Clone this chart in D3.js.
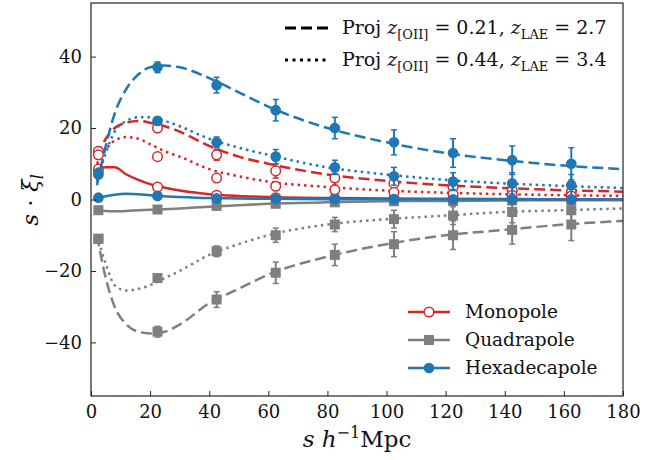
<!DOCTYPE html>
<html><head><meta charset="utf-8">
<script src="https://cdn.jsdelivr.net/npm/d3@7"></script>
<style>body{margin:0;background:#fff}svg{font-family:"DejaVu Serif",serif}</style>
</head><body><svg id="c" width="670" height="460"></svg>
<script>
// data points at bin centres
const sPts = [2.5, 22.5, 42.5, 62.5, 82.5, 102.5, 122.5, 142.5, 162.5];
const monoSolid = [8.5, 3.5, 1.2, 0.5, 0.3, 0.2, 0.15, 0.1, 0.1];
const monoDash = [13.5, 20, 12.5, 8, 6, 4.5, 3.5, 2.5, 2];
const monoDot = [12.5, 12, 6, 3.7, 2.7, 2, 1.5, 1.2, 1];
const quadSolid = [-3, -2.8, -1.8, -1.2, -0.8, -0.5, -0.4, -0.3, -0.2];
const quadDash = [-11, -37, -28, -20.5, -15.5, -12.5, -10, -8.5, -7];
const quadDot = [-11, -22, -14.5, -10, -7, -5.5, -4.5, -3.5, -3];
const hexSolid = [0.5, 1, 0.3, 0.2, 0.1, 0.1, 0.05, 0.05, 0.05];
const hexDash = [7.5, 37, 32, 25, 20, 16, 13, 11, 10];
const hexDot = [7, 22, 16, 12, 9, 6.5, 5, 4.5, 4];
const errDash = [0.8, 1.5, 2.2, 3, 3, 3.5, 4, 4, 4.5];
const errDot = [0.6, 1, 1.5, 2, 2, 2.5, 2.5, 3, 3];

// model curves
const sCurve = [2, 5, 8, 12, 16, 20, 25, 30, 40, 50, 60, 80, 100, 120, 140, 160, 180];
const cMonoDash = [12, 17, 20, 21.5, 22, 21.5, 20.5, 19, 15, 12, 10, 7, 5.2, 4, 3.2, 2.6, 2.2];
const cMonoDot = [10, 14, 16.5, 17.5, 17, 15.5, 13.5, 12, 8.5, 6.5, 5, 3.5, 2.5, 1.9, 1.5, 1.2, 1.0];
const cMonoSolid = [8.5, 9, 9, 7, 5.5, 4.3, 3.3, 2.5, 1.5, 1, 0.7, 0.4, 0.3, 0.2, 0.15, 0.1, 0.1];
const cHexDash = [4, 15, 24, 31, 35, 37, 37.5, 37, 34, 30, 26, 20, 16, 13, 11, 9.5, 8.5];
const cHexDot = [5, 13, 19, 22, 23, 23, 22, 20.5, 17, 14.5, 12.5, 9, 7, 5.5, 4.5, 3.8, 3.2];
const cHexSolid = [0.3, 0.9, 1.3, 1.6, 1.5, 1.2, 0.9, 0.7, 0.4, 0.3, 0.2, 0.1, 0.1, 0.05, 0.05, 0.05, 0.05];
const cQuadDash = [-10, -22, -30, -35, -37, -37.5, -37, -35, -29, -25, -21, -16, -12.5, -10, -8.5, -7, -6];
const cQuadDot = [-10, -18, -24, -25.5, -25, -24, -22, -20, -15.5, -12.5, -10, -7, -5.5, -4.5, -3.5, -3, -2.5];
const cQuadSolid = [-3, -3.2, -3.3, -3.2, -3, -2.9, -2.7, -2.5, -2, -1.6, -1.2, -0.8, -0.5, -0.4, -0.3, -0.2, -0.2];

const xTicks = [0, 20, 40, 60, 80, 100, 120, 140, 160, 180];
const yTicks = [-40, -20, 0, 20, 40];

const red = '#d62728', gray = '#7f7f7f', blue = '#1f77b4';
const L = 91, R = 623, T = 3, B = 396;
const svg = d3.select('#c');
const x = d3.scaleLinear().domain([0, 180]).range([L, R]);
const y = d3.scaleLinear().domain([-55, 55]).range([B, T]);

const dashes = {solid: null, dash: '11,5', dot: '2.5,4'};
const line = d3.line().x(d => x(d[0])).y(d => y(d[1])).curve(d3.curveMonotoneX);
const plot = svg.append('g');

function curve(vals, col, style, w) {
    plot.append('path').datum(sCurve.map((s, i) => [s, vals[i]]))
        .attr('d', line).attr('fill', 'none').attr('stroke', col)
        .attr('stroke-width', w || 2.5).attr('stroke-dasharray', dashes[style]);
}
function points(vals, errs, col, kind) {
    const g = plot.append('g');
    sPts.forEach((s, i) => {
        const cx = x(s), cy = y(vals[i]);
        if (errs) {
            const e = errs[i];
            g.append('line').attr('x1', cx).attr('x2', cx).attr('y1', y(vals[i] - e)).attr('y2', y(vals[i] + e)).attr('stroke', col).attr('stroke-width', 2);
            [vals[i] - e, vals[i] + e].forEach(v => g.append('line').attr('x1', cx - 3).attr('x2', cx + 3).attr('y1', y(v)).attr('y2', y(v)).attr('stroke', col).attr('stroke-width', 1.5));
        }
        marker(g, cx, cy, col, kind);
    });
}
function marker(g, cx, cy, col, kind) {
    if (kind == 'circle') g.append('circle').attr('cx', cx).attr('cy', cy).attr('r', 4.8).attr('fill', '#fff').attr('stroke', col).attr('stroke-width', 1.5);
    else if (kind == 'square') g.append('rect').attr('x', cx - 5).attr('y', cy - 5).attr('width', 10).attr('height', 10).attr('fill', col);
    else g.append('path').attr('d', d3.symbol(d3.symbolCircle, 90)()).attr('transform', `translate(${cx},${cy})`).attr('fill', col);
}

curve(cQuadSolid, gray, 'solid'); curve(cQuadDash, gray, 'dash'); curve(cQuadDot, gray, 'dot');
points(quadSolid, null, gray, 'square'); points(quadDash, errDash, gray, 'square'); points(quadDot, errDot, gray, 'square');
curve(cMonoSolid, red, 'solid'); curve(cMonoDash, red, 'dash'); curve(cMonoDot, red, 'dot');
points(monoSolid, null, red, 'circle'); points(monoDash, errDot, red, 'circle'); points(monoDot, null, red, 'circle');
curve(cHexSolid, blue, 'solid'); curve(cHexDash, blue, 'dash'); curve(cHexDot, blue, 'dot');
points(hexSolid, null, blue, 'hex'); points(hexDash, errDash, blue, 'hex'); points(hexDot, errDot, blue, 'hex');

// frame and ticks
svg.append('rect').attr('x', L).attr('y', T).attr('width', R - L).attr('height', B - T).attr('fill', 'none').attr('stroke', '#222').attr('stroke-width', 1.2);
const xa = svg.append('g').attr('transform', `translate(0,${B})`).call(d3.axisBottom(x).tickValues(xTicks).tickSizeInner(-5).tickSizeOuter(0).tickPadding(9));
const ya = svg.append('g').attr('transform', `translate(${L},0)`).call(d3.axisLeft(y).tickValues(yTicks).tickSizeInner(-5).tickSizeOuter(0).tickPadding(9).tickFormat(d => d < 0 ? '\u2212' + (-d) : d));
[xa, ya].forEach(a => { a.select('.domain').remove(); a.selectAll('text').attr('font-size', 18).attr('font-family', 'DejaVu Serif').attr('fill', '#111'); a.selectAll('line').attr('stroke', '#222'); });

// axis labels
svg.append('text').attr('x', 357).attr('y', 447).attr('text-anchor', 'middle').attr('font-size', 23).attr('fill', '#111')
    .html('<tspan font-style="italic">s</tspan> <tspan font-style="italic">h</tspan><tspan dy="-9" font-size="16">\u22121</tspan><tspan dy="9">Mpc</tspan>');
svg.append('text').attr('transform', 'translate(38,200) rotate(-90)').attr('text-anchor', 'middle').attr('font-size', 23).attr('fill', '#111')
    .html('<tspan font-style="italic">s</tspan> \u00b7 <tspan font-style="italic">\u03be</tspan><tspan font-style="italic" font-size="16" dy="5">l</tspan>');

// style legend
const lg = svg.append('g');
[['dash', 'Proj ', '0.21', '2.7', 28], ['dot', 'Proj ', '0.44', '3.4', 60]].forEach(([st, p, zo, zl, yy]) => {
    lg.append('line').attr('x1', 285).attr('x2', 328).attr('y1', yy).attr('y2', yy).attr('stroke', '#000').attr('stroke-width', 3).attr('stroke-dasharray', st == 'dash' ? '11,5' : '3,4.5');
    lg.append('text').attr('x', 342).attr('y', yy + 6).attr('font-size', 19).attr('fill', '#111')
        .html(`${p}<tspan font-style="italic">z</tspan><tspan font-size="13" dy="5">[OII]</tspan><tspan dy="-5"> = ${zo}, </tspan><tspan font-style="italic">z</tspan><tspan font-size="13" dy="5">LAE</tspan><tspan dy="-5"> = ${zl}</tspan>`);
});
// multipole legend
[['Monopole', red, 'circle', 312], ['Quadrapole', gray, 'square', 340], ['Hexadecapole', blue, 'hex', 368]].forEach(([n, c, k, yy]) => {
    lg.append('line').attr('x1', 408).attr('x2', 450).attr('y1', yy).attr('y2', yy).attr('stroke', c).attr('stroke-width', 2.5);
    marker(lg, 429, yy, c, k);
    lg.append('text').attr('x', 465).attr('y', yy + 6).attr('font-size', 18.5).attr('fill', '#111').text(n);
});
</script></body></html>
